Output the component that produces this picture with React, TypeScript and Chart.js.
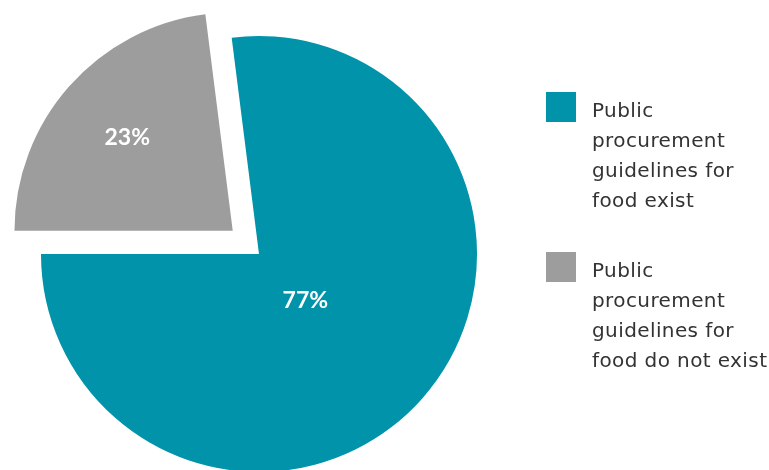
import React, { useEffect, useRef } from "react";
import { Chart, registerables } from "chart.js";

Chart.register(...registerables);

const categories = [
  "Public procurement guidelines for food exist",
  "Public procurement guidelines for food do not exist",
];
const legendLines = [
  ["Public", "procurement", "guidelines for", "food exist"],
  ["Public", "procurement", "guidelines for", "food do not exist"],
];
const values = [77, 23];
const valueLabels = ["77%", "23%"];
const colors = ["#0093A9", "#9D9D9D"];
const sliceOffsets = [0, 140];
const labelRadiusFraction = [0.3, 0.645];

const labelPlugin = {
  id: "sliceLabels",
  afterDatasetsDraw(chart: any) {
    const ctx = chart.ctx;
    const meta = chart.getDatasetMeta(0);
    ctx.save();
    ctx.fillStyle = "#ffffff";
    ctx.font = "bold 23px Lato";
    ctx.textAlign = "center";
    ctx.textBaseline = "middle";
    meta.data.forEach((arc: any, i: number) => {
      const p = arc.getProps(["x", "y", "startAngle", "endAngle", "outerRadius"], true);
      const mid = (p.startAngle + p.endAngle) / 2 + (i === 0 ? 0.06 : 0);
      const d = sliceOffsets[i] / 4 + labelRadiusFraction[i] * p.outerRadius;
      ctx.fillText(valueLabels[i], p.x + Math.cos(mid) * d, p.y + Math.sin(mid) * d);
    });
    ctx.restore();
  },
};

export default function App() {
  const ref = useRef<HTMLCanvasElement>(null);
  useEffect(() => {
    if (!ref.current) return;
    const chart = new Chart(ref.current, {
      type: "pie",
      data: {
        labels: categories,
        datasets: [
          {
            data: values,
            backgroundColor: colors,
            borderWidth: 0,
            offset: sliceOffsets,
            hoverOffset: 0,
          } as any,
        ],
      },
      options: {
        responsive: false,
        animation: false,
        events: [],
        rotation: -7.2,
        radius: 218,
        layout: { padding: { left: 0, right: 251, top: 38, bottom: 0 } },
        plugins: {
          legend: { display: false },
          tooltip: { enabled: false },
        },
      } as any,
      plugins: [labelPlugin],
    });
    return () => chart.destroy();
  }, []);

  return (
    <div
      style={{
        position: "fixed",
        left: 0,
        top: 0,
        width: 769,
        height: 470,
        background: "#ffffff",
        overflow: "hidden",
      }}
    >
      <canvas ref={ref} width={769} height={470} style={{ position: "absolute", left: 0, top: 0 }} />
      <div style={{ position: "absolute", left: 546, top: 92 }}>
        {legendLines.map((lines, i) => (
          <div key={i} style={{ display: "flex", alignItems: "flex-start", marginBottom: 36.5 }}>
            <div style={{ width: 30, height: 30, background: colors[i], marginRight: 16, flex: "none" }} />
            <div
              style={{
                fontFamily: "'DejaVu Sans'",
                fontSize: 20,
                letterSpacing: "0.4px",
                lineHeight: "30px",
                color: "#333333",
                marginTop: 3,
                whiteSpace: "nowrap",
              }}
            >
              {lines.map((l, j) => (
                <div key={j}>{l}</div>
              ))}
            </div>
          </div>
        ))}
      </div>
    </div>
  );
}
